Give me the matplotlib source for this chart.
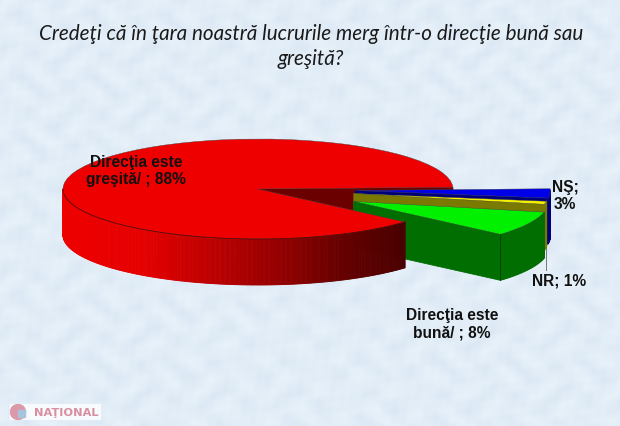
import numpy as np
import matplotlib
matplotlib.use('Agg')
import matplotlib.pyplot as plt

# chart values
labels = ['Direcţia este\ngreşită/ ; 88%', 'Direcţia este\nbună/ ; 8%', 'NR; 1%', 'NŞ;\n3%']
shares = [88, 8, 1, 3]
explode = [0, 0.55, 0.5, 0.5]
top_colors = ['#ee0000', '#00f000', '#f5f000', '#0000e8']
wall_colors = ['#7a0000', '#006e00', '#7a7a00', '#00007a']
title = 'Credeţi că în ţara noastră lucrurile merg într-o direcţie bună sau\ngreşită?'

W, H = 620, 427
cx, cy = 258, 190   # pie centre in pixels
rx, ry = 195, 50    # ellipse radii in pixels
depth = 0.92        # wall height, data units


def px(x, y):
    return x / W, 1 - y / H


fig = plt.figure(figsize=(6.2, 4.27), dpi=100)

# pale mottled paper behind everything
bg = fig.add_axes([0, 0, 1, 1], zorder=0)
yy, xx = np.mgrid[0:H, 0:W]
m = (np.sin(xx / 6.0 + np.sin(yy / 9.0) * 2) + np.sin(yy / 5.0 + np.sin(xx / 11.0) * 2)
     + 0.6 * np.sin((xx + yy) / 3.0) * np.sin((xx - yy) / 4.0)) / 2.6
tex = np.dstack([226 + 7 * m, 237 + 5 * m, 247 + 3 * m]) / 255.0
bg.imshow(tex, aspect='auto', extent=(0, W, H, 0))
bg.axis('off')

ax = fig.add_axes([0, 0, 1, 1], zorder=1)
ax.patch.set_alpha(0)
wedges, _ = ax.pie(shares, explode=explode, startangle=2, colors=top_colors, radius=1,
                   wedgeprops=dict(linewidth=0.3, edgecolor='#444444'))
ax.set_aspect('auto')
ax.set_xlim(-cx / rx, (W - cx) / rx)
ax.set_ylim(-(H - cy) / ry, cy / ry)
ax.axis('off')


def pt(w, deg):
    a = np.deg2rad(deg)
    return w.center[0] + w.r * np.cos(a), w.center[1] + w.r * np.sin(a)


def quad(p, q, color, z):
    xs = [p[0], q[0], q[0], p[0]]
    ys = [p[1], q[1], q[1] - depth, p[1] - depth]
    ax.fill(xs, ys, color=color, lw=0.6, zorder=z)


# drawn back to front: red cut, blue, yellow, green, then the big red slice
base = {3: 2, 2: 5, 1: 8, 0: 11}
for i, w in enumerate(wedges):
    z = base[i]
    # outer rim, only the part facing the viewer
    t1, t2 = w.theta1, w.theta2
    angs = np.arange(max(t1, 180), min(t2, 360) + 0.5, 0.5)
    if i == 0:
        # red rim fades to dark towards the cut
        shade = np.interp(np.cos(np.deg2rad(angs)), [-1, -0.6, 0.1, 0.4, 0.77], [238, 230, 150, 105, 72])
        for a, b, s in zip(angs[:-1], angs[1:], shade):
            quad(pt(w, a), pt(w, b), (s / 255, 0, 0), z + 0.5)
    else:
        for a, b in zip(angs[:-1], angs[1:]):
            quad(pt(w, a), pt(w, b), wall_colors[i], z + 0.5)
    # cut faces that turn towards the viewer
    if i == 0:
        quad(w.center, pt(w, t1), '#6a0000', 1)
    else:
        quad(w.center, pt(w, t1), wall_colors[i], z - 0.5)
    w.set_zorder(z + 1)

# rim line of the red slice and corner of the green one
red = wedges[0]
arc = np.arange(180, red.theta2 + 1, 1.0)
ax.plot(*zip(*[pt(red, a) for a in arc]), color='#5a0000', lw=0.5, zorder=12.5)
g = wedges[1]
gp = pt(g, g.theta1)
ax.plot([gp[0], gp[0]], [gp[1], gp[1] - depth], color='#033d03', lw=0.6, zorder=9.5)

# leader for NR
nr = pt(wedges[2], 350)
ax.plot([nr[0], nr[0]], [nr[1], nr[1] - 1.36], color='#777777', lw=0.7, zorder=1)

# texts
fig.text(*px(311, 46.5), title, ha='center', va='center', family='Lato', style='italic',
         fontsize=14.9, color='#1a1a1a', linespacing=1.32)
lab = dict(family='Liberation Sans', weight='bold', fontsize=11.2, color='#111111',
           ha='center', va='center', linespacing=1.22)
fig.text(*px(136, 171), labels[0], **lab)
fig.text(*px(452, 324), labels[1], **lab)
fig.text(*px(559, 281), labels[2], **lab)
fig.text(*px(565, 196), labels[3], **lab)

# watermark
lg = fig.add_axes([10 / W, 1 - 421 / H, 91 / W, 16 / H], zorder=2)
lg.set_xlim(0, 91)
lg.set_ylim(16, 0)
lg.axis('off')
lg.add_patch(plt.Rectangle((0, 0), 91, 16, color='#f8fbfd'))
lg.add_patch(plt.Circle((8, 8), 7.5, color='#dc9aa8'))
lg.add_patch(plt.Rectangle((8, 6), 7, 7, color='#a8c4dc'))
lg.text(56, 8.5, 'NAŢIONAL', family='DejaVu Sans', weight='bold', fontsize=8.2,
        color='#d88f9f', ha='center', va='center')

fig.savefig('out.png', dpi=100)
